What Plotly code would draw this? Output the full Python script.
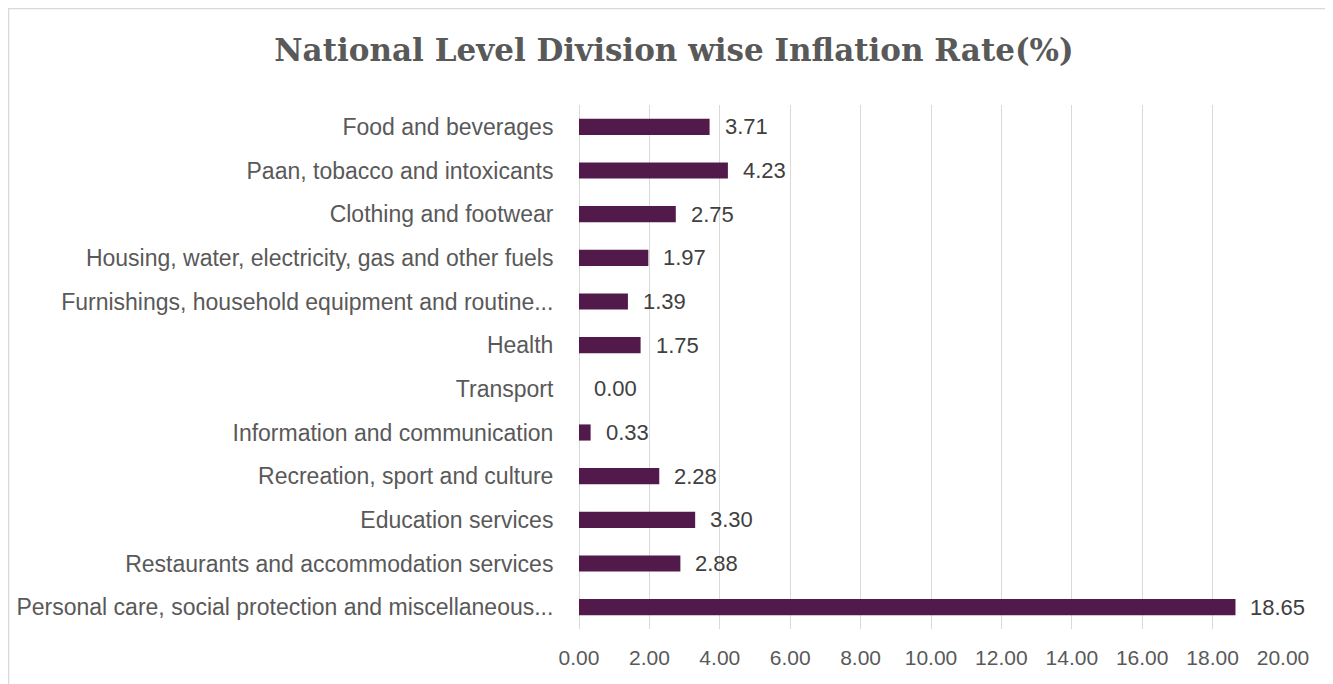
import plotly.graph_objects as go

categories = [
    "Food and beverages",
    "Paan, tobacco and intoxicants",
    "Clothing and footwear",
    "Housing, water, electricity, gas and other fuels",
    "Furnishings, household equipment and routine...",
    "Health",
    "Transport",
    "Information and communication",
    "Recreation, sport and culture",
    "Education services",
    "Restaurants and accommodation services",
    "Personal care, social protection and miscellaneous...",
]
values = [3.71, 4.23, 2.75, 1.97, 1.39, 1.75, 0.00, 0.33, 2.28, 3.30, 2.88, 18.65]
x_ticks = [0, 2, 4, 6, 8, 10, 12, 14, 16, 18, 20]
x_ticklabels = ["%.2f" % t for t in x_ticks]

# page has an 8px body margin: figure coords = page coords - 8
W, H = 1325, 676
L, R, T, B = 571, 50, 97, 55
pw, ph = W - L - R, H - T - B

BAR = "#521A4A"
GRID = "#D9D9D9"
TXT = "#595959"

fig = go.Figure()
fig.add_trace(go.Bar(
    y=categories, x=values, orientation="h",
    marker=dict(color=BAR, line=dict(width=0)),
    width=0.37, hoverinfo="skip",
))

for c, v in zip(categories, values):
    fig.add_annotation(
        x=v, y=c, xref="x", yref="y", text="%.2f" % v, showarrow=False,
        xanchor="left", yanchor="middle", xshift=13,
        font=dict(family="Liberation Sans", size=22, color="#404040"),
    )

def px_x(p):
    return (p - L) / pw

def px_y(p):
    return (H - B - p) / ph

# chart-area border (top and left)
fig.add_shape(type="line", xref="paper", yref="paper",
              x0=px_x(0), x1=px_x(W + 5), y0=px_y(0.5), y1=px_y(0.5),
              line=dict(color=GRID, width=1.5))
fig.add_shape(type="line", xref="paper", yref="paper",
              x0=px_x(0.5), x1=px_x(0.5), y0=px_y(0), y1=px_y(H + 5),
              line=dict(color=GRID, width=1.5))

fig.update_layout(
    width=W, height=H,
    margin=dict(l=L, r=R, t=T, b=B),
    paper_bgcolor="white", plot_bgcolor="white",
    showlegend=False,
    title=dict(
        text="<b>National Level Division wise Inflation Rate(%)</b>",
        x=666 / W, xanchor="center", xref="container",
        y=1 - 42 / H, yanchor="middle", yref="container",
        font=dict(family="DejaVu Serif", size=31, color=TXT),
    ),
    xaxis=dict(
        range=[0, 20], tickvals=x_ticks, ticktext=x_ticklabels,
        showgrid=True, gridcolor=GRID, gridwidth=1,
        zeroline=True, zerolinecolor=GRID, zerolinewidth=1,
        showline=False, automargin=False,
        ticks="outside", ticklen=10, tickcolor="rgba(0,0,0,0)",
        tickfont=dict(family="Liberation Sans", size=21, color=TXT),
        fixedrange=True,
    ),
    yaxis=dict(
        categoryorder="array", categoryarray=categories[::-1],
        autorange=False, range=[-0.5, len(categories) - 0.5],
        showgrid=False, showline=False, zeroline=False, automargin=False,
        ticks="outside", ticklen=20, tickcolor="rgba(0,0,0,0)",
        tickfont=dict(family="Liberation Sans", size=23, color=TXT),
        fixedrange=True,
    ),
)

fig.write_html("out.html")
